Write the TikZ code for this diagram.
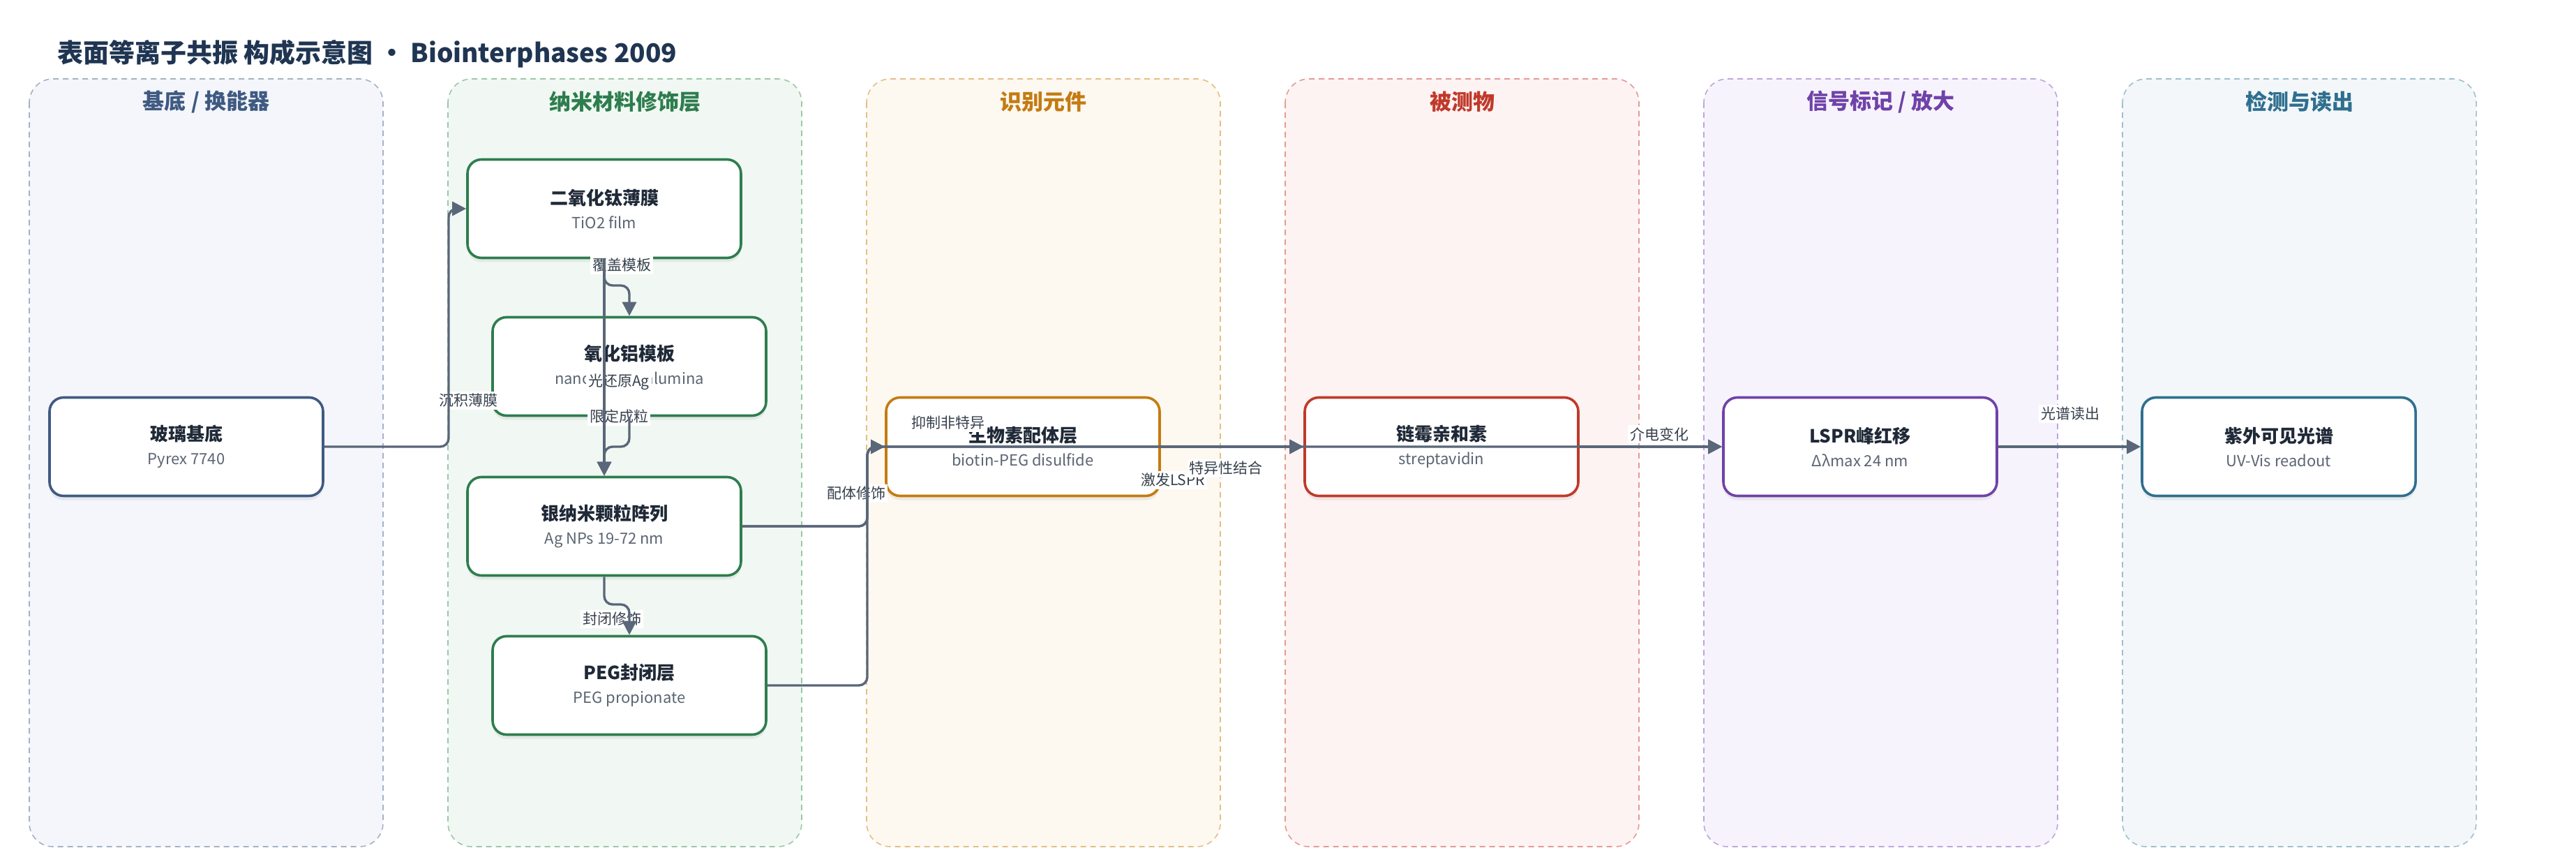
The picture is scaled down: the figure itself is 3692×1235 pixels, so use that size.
\documentclass[tikz,border=0pt]{standalone}
\usepackage{fontspec}
\setmainfont{Noto Sans CJK SC}
\usetikzlibrary{arrows.meta,shadows}

\definecolor{titleink}{HTML}{1F3552}
\definecolor{textink}{HTML}{1F2937}
\definecolor{subink}{HTML}{5B6573}
\definecolor{wireink}{HTML}{5A6679}
\definecolor{labelink}{HTML}{36404C}
% lane colours: fill / dashed border / title
\definecolor{fillA}{HTML}{F4F6FB}\definecolor{edgeA}{HTML}{A5B1C6}\definecolor{inkA}{HTML}{3F5A82}
\definecolor{fillB}{HTML}{F1F8F3}\definecolor{edgeB}{HTML}{9CC7AA}\definecolor{inkB}{HTML}{2E7D4E}
\definecolor{fillC}{HTML}{FDF8F0}\definecolor{edgeC}{HTML}{E3BF85}\definecolor{inkC}{HTML}{C47B12}
\definecolor{fillD}{HTML}{FDF3F2}\definecolor{edgeD}{HTML}{E39B95}\definecolor{inkD}{HTML}{C0392B}
\definecolor{fillE}{HTML}{F7F3FC}\definecolor{edgeE}{HTML}{BCA6DD}\definecolor{inkE}{HTML}{6F42A8}
\definecolor{fillF}{HTML}{F3F7F9}\definecolor{edgeF}{HTML}{9EBFCD}\definecolor{inkF}{HTML}{2F6F8F}

\tikzset{
  lanebox/.style={line width=0.8pt, dash pattern=on 4pt off 3pt, rounded corners=17pt},
  lanetitle/.style={font=\fontsize{15.5}{18}\selectfont\bfseries},
  stagebox/.style={draw=#1, line width=1.8pt, fill=white, rounded corners=10pt,
    minimum width=196pt, minimum height=70.5pt, align=center, text=subink,
    font=\fontsize{11}{17}\selectfont,
    drop shadow={shadow xshift=0pt, shadow yshift=-3pt, opacity=0.12}},
  wire/.style={draw=wireink, line width=1.7pt, rounded corners=6pt,
    -{Triangle[length=10pt,width=10pt]}},
  elabel/.style={fill=white, inner sep=1.5pt, text=labelink,
    font=\fontsize{10.5}{12}\selectfont},
}
\newcommand\stagetext[2]{{\fontsize{13}{17}\selectfont\bfseries\color{textink}#1}\\#2}

\begin{document}
\begin{tikzpicture}[x=0.5pt, y=-0.5pt]

  \useasboundingbox (0,0) rectangle (3692,1235);

  \node[anchor=west, text=titleink, font=\fontsize{18.5}{22}\selectfont\bfseries] (title) at (75,77)
    {表面等离子共振 构成示意图 • Biointerphases 2009};

  % lanes
  \foreach \i/\c/\name in {0/A/{基底 / 换能器}, 1/B/纳米材料修饰层, 2/C/识别元件,
                           3/D/被测物, 4/E/{信号标记 / 放大}, 5/F/检测与读出} {
    \draw[lanebox, fill=fill\c, draw=edge\c] (42+600*\i, 113) rectangle +(507, 1100);
    \node[lanetitle, text=ink\c] (lane\c) at (295.5+600*\i, 146) {\name};
  }

  % stages
  \node[stagebox=inkA] (glass)   at (267, 640) {\stagetext{玻璃基底}{Pyrex 7740}};
  \node[stagebox=inkB] (tio2)    at (866, 299) {\stagetext{二氧化钛薄膜}{TiO2 film}};
  \node[stagebox=inkB] (alumina) at (902, 525) {\stagetext{氧化铝模板}{nanoporous alumina}};
  \node[stagebox=inkB] (agnp)    at (866, 754) {\stagetext{银纳米颗粒阵列}{Ag NPs 19-72 nm}};
  \node[stagebox=inkB] (peg)     at (902, 982) {\stagetext{PEG封闭层}{PEG propionate}};
  \node[stagebox=inkC] (biotin)  at (1466, 640) {\stagetext{生物素配体层}{biotin-PEG disulfide}};
  \node[stagebox=inkD] (strep)   at (2066, 640) {\stagetext{链霉亲和素}{streptavidin}};
  \node[stagebox=inkE] (lspr)    at (2666, 640) {\stagetext{LSPR峰红移}{Δλmax 24 nm}};
  \node[stagebox=inkF] (uvvis)   at (3266, 640) {\stagetext{紫外可见光谱}{UV-Vis readout}};

  % edge labels
  \node[elabel] (l-deposit) at (671, 574)  {沉积薄膜};
  \node[elabel] (l-cover)   at (891, 380)  {覆盖模板};
  \node[elabel] (l-photo)   at (887, 547)  {光还原Ag};
  \node[elabel] (l-confine) at (887, 597)  {限定成粒};
  \node[elabel] (l-block)   at (877, 887)  {封闭修饰};
  \node[elabel] (l-ligand)  at (1227, 707) {配体修饰};
  \node[elabel] (l-nonspec) at (1359, 606) {抑制非特异};
  \node[elabel] (l-excite)  at (1681, 688) {激发LSPR};
  \node[elabel] (l-bind)    at (1757, 671) {特异性结合};
  \node[elabel] (l-dielec)  at (2378, 622) {介电变化};
  \node[elabel] (l-read)    at (2967, 593) {光谱读出};

  % connectors
  \coordinate (xsplit1) at (643, 640);
  \coordinate (xsplit2) at (1243, 640);
  \coordinate (ybend1) at (0, 409);
  \coordinate (ybend2) at (0, 640);
  \coordinate (ybend3) at (0, 866);

  \draw[wire] (glass.east) -- (xsplit1) |- (tio2.west);
  \draw[wire] (tio2.south) -- (tio2.south |- ybend1) -| (alumina.north);
  \draw[wire] (tio2.south) -- (agnp.north);
  \draw[wire] (alumina.south) -- (alumina.south |- ybend2) -| (agnp.north);
  \draw[wire] (agnp.south) -- (agnp.south |- ybend3) -| (peg.north);
  \draw[wire] (agnp.east) -- (agnp.east -| xsplit2) -- (xsplit2) -- (biotin.west);
  \draw[wire] (peg.east) -- (peg.east -| xsplit2) -- (xsplit2) -- (strep.west);
  \draw[wire] (agnp.east) -- (agnp.east -| xsplit2) -- (xsplit2) -- (lspr.west);
  \draw[wire] (biotin.east) -- (strep.west);
  \draw[wire] (strep.east) -- (lspr.west);
  \draw[wire] (lspr.east) -- (uvvis.west);

\end{tikzpicture}
\end{document}
